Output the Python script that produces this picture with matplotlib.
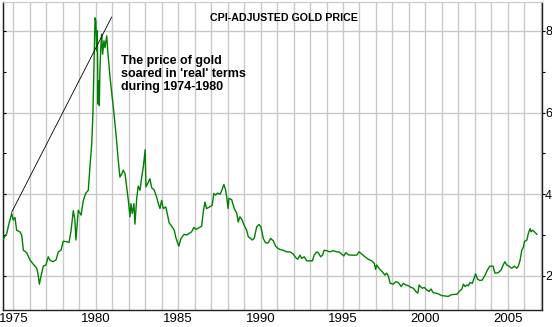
import matplotlib
matplotlib.use("Agg")
import matplotlib.pyplot as plt
from matplotlib.ticker import MultipleLocator

plt.rcParams['font.family'] = ['Liberation Sans', 'DejaVu Sans']

# CPI-adjusted gold price (decimal year, value)
years = [
    1974.38, 1974.59, 1974.73, 1974.89, 1974.99, 1975.09, 1975.19, 1975.39, 1975.50, 1975.60,
    1975.80, 1976.00, 1976.20, 1976.41, 1976.50, 1976.57, 1976.71, 1976.81, 1976.97, 1977.11,
    1977.21, 1977.38, 1977.58, 1977.72, 1977.88, 1978.02, 1978.23, 1978.37, 1978.49, 1978.63,
    1978.72, 1978.79, 1978.93, 1979.10, 1979.24, 1979.38, 1979.54, 1979.64, 1979.75, 1979.82,
    1979.88, 1979.95, 1980.00, 1980.05, 1980.09, 1980.13, 1980.17, 1980.21, 1980.25, 1980.31,
    1980.35, 1980.41, 1980.49, 1980.55, 1980.66, 1980.72, 1980.86, 1981.06, 1981.22, 1981.36,
    1981.46, 1981.57, 1981.66, 1981.77, 1981.87, 1981.97, 1982.07, 1982.13, 1982.21, 1982.31,
    1982.37, 1982.48, 1982.57, 1982.68, 1982.78, 1982.88, 1982.99, 1983.04, 1983.14, 1983.28,
    1983.39, 1983.53, 1983.69, 1983.79, 1983.89, 1983.99, 1984.09, 1984.24, 1984.33, 1984.45,
    1984.60, 1984.76, 1984.84, 1984.97, 1985.04, 1985.15, 1985.24, 1985.36, 1985.51, 1985.65,
    1985.81, 1985.95, 1986.07, 1986.26, 1986.42, 1986.52, 1986.62, 1986.72, 1986.90, 1987.06,
    1987.16, 1987.27, 1987.39, 1987.53, 1987.63, 1987.77, 1987.88, 1987.95, 1988.03, 1988.07,
    1988.24, 1988.40, 1988.55, 1988.64, 1988.74, 1988.88, 1989.00, 1989.15, 1989.25, 1989.39,
    1989.49, 1989.61, 1989.76, 1989.90, 1990.02, 1990.16, 1990.30, 1990.46, 1990.61, 1990.77,
    1990.91, 1991.07, 1991.17, 1991.37, 1991.58, 1991.78, 1991.98, 1992.13, 1992.25, 1992.39,
    1992.49, 1992.65, 1992.80, 1993.00, 1993.14, 1993.25, 1993.40, 1993.50, 1993.64, 1993.76,
    1993.86, 1994.00, 1994.20, 1994.41, 1994.61, 1994.75, 1994.91, 1995.05, 1995.17, 1995.32,
    1995.52, 1995.83, 1995.97, 1996.13, 1996.33, 1996.53, 1996.74, 1996.90, 1996.98, 1997.04,
    1997.14, 1997.31, 1997.44, 1997.54, 1997.65, 1997.75, 1997.86, 1998.06, 1998.20, 1998.36,
    1998.53, 1998.66, 1998.81, 1998.97, 1999.13, 1999.27, 1999.42, 1999.54, 1999.62, 1999.70,
    1999.81, 1999.93, 2000.08, 2000.22, 2000.34, 2000.48, 2000.63, 2000.79, 2000.99, 2001.19,
    2001.40, 2001.56, 2001.76, 2001.91, 2002.05, 2002.21, 2002.31, 2002.41, 2002.51, 2002.61,
    2002.71, 2002.85, 2002.97, 2003.05, 2003.17, 2003.31, 2003.45, 2003.62, 2003.77, 2003.91,
    2004.11, 2004.22, 2004.42, 2004.60, 2004.72, 2004.83, 2004.93, 2005.08, 2005.24, 2005.40,
    2005.55, 2005.64, 2005.75, 2005.85, 2005.95, 2006.01, 2006.16, 2006.26, 2006.36, 2006.42,
    2006.50, 2006.62, 2006.77,
]
real_price = [
    2.90, 3.04, 3.29, 3.53, 3.37, 3.43, 3.12, 3.08, 3.00, 2.63,
    2.57, 2.39, 2.29, 2.19, 2.02, 1.80, 2.07, 2.24, 2.27, 2.47,
    2.39, 2.35, 2.39, 2.59, 2.63, 2.85, 2.84, 2.82, 3.10, 3.60,
    3.40, 2.88, 3.61, 3.49, 3.85, 4.02, 4.10, 4.67, 5.24, 5.97,
    7.10, 8.32, 8.24, 7.51, 8.00, 6.21, 6.78, 6.17, 7.10, 7.67,
    7.92, 7.43, 7.76, 7.59, 7.88, 7.51, 6.86, 6.13, 5.48, 4.83,
    4.42, 4.50, 4.59, 4.50, 4.18, 3.85, 3.45, 3.77, 3.53, 3.77,
    3.27, 3.90, 4.20, 4.10, 4.42, 4.67, 5.09, 4.18, 4.26, 4.38,
    4.16, 4.11, 3.93, 3.77, 3.65, 3.85, 3.65, 3.69, 3.53, 3.30,
    3.22, 3.12, 2.96, 2.80, 2.73, 2.90, 2.96, 3.02, 3.00, 3.04,
    3.08, 3.19, 3.14, 3.18, 3.22, 3.57, 3.81, 3.65, 3.69, 3.73,
    4.02, 3.98, 4.03, 4.00, 4.08, 4.24, 4.10, 3.90, 3.65, 3.90,
    3.87, 3.65, 3.54, 3.32, 3.45, 3.37, 3.24, 3.12, 2.96, 2.92,
    2.88, 2.92, 3.20, 3.26, 3.20, 2.92, 2.81, 2.81, 2.92, 2.86,
    2.73, 2.67, 2.65, 2.63, 2.59, 2.59, 2.54, 2.45, 2.41, 2.51,
    2.43, 2.47, 2.37, 2.37, 2.37, 2.51, 2.59, 2.57, 2.47, 2.51,
    2.63, 2.62, 2.59, 2.62, 2.59, 2.59, 2.54, 2.49, 2.57, 2.52,
    2.51, 2.51, 2.59, 2.54, 2.47, 2.41, 2.37, 2.31, 2.16, 2.27,
    2.21, 2.13, 2.08, 2.02, 2.07, 2.00, 1.82, 1.80, 1.86, 1.84,
    1.74, 1.82, 1.78, 1.76, 1.72, 1.70, 1.62, 1.58, 1.78, 1.74,
    1.70, 1.72, 1.66, 1.62, 1.68, 1.59, 1.58, 1.56, 1.52, 1.51,
    1.50, 1.54, 1.55, 1.55, 1.62, 1.68, 1.80, 1.74, 1.78, 1.76,
    1.84, 1.82, 1.96, 2.05, 1.92, 1.89, 1.90, 2.02, 2.15, 2.24,
    2.24, 2.07, 2.08, 2.15, 2.27, 2.35, 2.27, 2.24, 2.19, 2.24,
    2.19, 2.24, 2.39, 2.63, 2.71, 2.84, 2.88, 3.06, 3.16, 3.08,
    3.12, 3.08, 3.02,
]

# hand-drawn trend line of the 1974-1980 rise
trend_x = [1974.89, 1980.96]
trend_y = [3.56, 8.34]

year_ticks = [1975, 1980, 1985, 1990, 1995, 2000, 2005]
value_ticks = [2, 4, 6, 8]

title = "CPI-ADJUSTED GOLD PRICE"
note = "The price of gold\nsoared in 'real' terms\nduring 1974-1980"

fig = plt.figure(figsize=(5.52, 3.27), dpi=100)
ax = fig.add_axes([3 / 552, 1 - 310 / 327, 538.7 / 552, 308.5 / 327])

ax.set_xlim(1974.363, 2007.06)
ax.set_ylim(1.167, 8.72)

# grid: every year vertically, every 2 units horizontally
for yr in range(1975, 2008):
    ax.axvline(yr, color='#c8c8c8', lw=1.0, zorder=0)
for v in value_ticks:
    ax.axhline(v, color='#c8c8c8', lw=1.0, zorder=0)

ax.plot(years, real_price, color='#008000', lw=1.0, zorder=3)
ax.plot(trend_x, trend_y, color='black', lw=0.6, zorder=4)

ax.set_xticks(year_ticks)
ax.set_xticklabels([str(y) for y in year_ticks], fontsize=9.5)
ax.tick_params(axis='x', length=0, pad=2)

# value labels on the right, outward ticks
ax.yaxis.tick_right()
ax.set_yticks(value_ticks)
ax.set_yticklabels([str(v) for v in value_ticks], fontsize=9)
ax.yaxis.set_minor_locator(MultipleLocator(1))
ax.tick_params(axis='y', which='major', direction='out', length=2.5, width=0.8, pad=0)
ax.tick_params(axis='y', which='minor', direction='out', length=2, width=0.8)

# small inward ticks on the left edge
left = ax.secondary_yaxis('left')
left.set_yticks(list(range(2, 9)))
left.set_yticklabels([])
left.tick_params(direction='in', length=2, width=0.8)
left.spines['left'].set_color('#202020')

for side in ['left', 'bottom', 'right']:
    ax.spines[side].set_color('#202020')
    ax.spines[side].set_linewidth(1.0)
ax.spines['top'].set_color('#c8c8c8')

ax.text(0.5216, 0.948, title, transform=ax.transAxes, ha='center', va='center',
        fontsize=7.7, fontweight='bold')
ax.text(0.2185, 0.828, note, transform=ax.transAxes, ha='left', va='top',
        fontsize=9, fontweight='bold', linespacing=1.15)

fig.savefig('out.png', dpi=100)
